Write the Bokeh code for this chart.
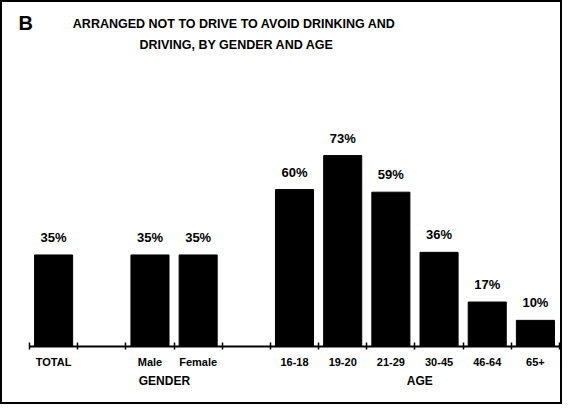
from bokeh.plotting import figure
from bokeh.models import ColumnDataSource, FixedTicker, LinearAxis, Label, Range1d
from bokeh.core.properties import value
from bokeh.embed import file_html
from bokeh.resources import INLINE

# ---- data ----
categories = ["TOTAL", "Male", "Female", "16-18", "19-20", "21-29", "30-45", "46-64", "65+"]
slots = [0.5, 2.5, 3.5, 5.5, 6.5, 7.5, 8.5, 9.5, 10.5]
percent = [35, 35, 35, 60, 73, 59, 36, 17, 10]
groups = ["GENDER", "AGE"]
group_pos = [2.8, 8.1]
title_letter = "B"
title_line1 = "ARRANGED NOT TO DRIVE TO AVOID DRINKING AND"
title_line2 = "DRIVING, BY GENDER AND AGE"

FONT = "Liberation Sans"

src = ColumnDataSource(dict(
    x=slots, top=percent, lab=[f"{v}%" for v in percent]
))

p = figure(width=562, height=404, output_backend="svg", toolbar_location=None,
           x_range=Range1d(-0.478, 11), y_range=Range1d(0, 130),
           y_axis_location=None, x_axis_location=None,
           min_border_left=4, min_border_right=5, min_border_top=4,
           min_border_bottom=60)
p.title = None
p.xgrid.visible = False
p.ygrid.visible = False
p.outline_line_color = None
p.background_fill_color = "white"
p.border_fill_color = "white"
p.styles = {"border": "2px solid black", "box-sizing": "border-box"}

p.vbar(x="x", top="top", width=0.79, source=src, fill_color="black", line_color="black")
p.text(x="x", y="top", text="lab", source=src, text_align="center",
       text_baseline="bottom", y_offset=-10, text_font=value(FONT),
       text_font_style="bold", text_font_size="13px", text_color="black")

# category axis
ax = LinearAxis(ticker=FixedTicker(ticks=slots, minor_ticks=list(range(0, 12))),
                major_label_overrides={s: c for s, c in zip(slots, categories)},
                bounds=(0, 11))
ax.axis_line_color = "black"
ax.axis_line_width = 2
ax.major_tick_line_color = None
ax.major_tick_out = 0
ax.major_tick_in = 0
ax.minor_tick_line_color = "black"
ax.minor_tick_line_width = 1.5
ax.minor_tick_out = 3
ax.minor_tick_in = 4
ax.major_label_standoff = 6
ax.major_label_text_font = FONT
ax.major_label_text_font_style = "bold"
ax.major_label_text_font_size = "11px"
ax.major_label_text_color = "black"
p.add_layout(ax, "below")

# group axis
gax = LinearAxis(ticker=FixedTicker(ticks=group_pos),
                 major_label_overrides={s: g for s, g in zip(group_pos, groups)})
gax.axis_line_color = None
gax.major_tick_line_color = None
gax.minor_tick_line_color = None
gax.major_tick_out = 0
gax.major_tick_in = 0
gax.major_label_standoff = 3
gax.major_label_text_font = FONT
gax.major_label_text_font_style = "bold"
gax.major_label_text_font_size = "12px"
gax.major_label_text_color = "black"
p.add_layout(gax, "below")

# titles (placed inside the enlarged frame)
p.add_layout(Label(x=-0.23, y=123.8, text=title_letter,
                   text_font=FONT, text_font_style="bold", text_font_size="20px",
                   text_align="left", text_baseline="alphabetic", text_color="black"))
p.add_layout(Label(x=4.25, y=123.5, text=title_line1,
                   text_font=FONT, text_font_style="bold", text_font_size="12.5px",
                   text_align="center", text_baseline="alphabetic", text_color="black"))
p.add_layout(Label(x=4.3, y=115.4, text=title_line2,
                   text_font=FONT, text_font_style="bold", text_font_size="12.5px",
                   text_align="center", text_baseline="alphabetic", text_color="black"))

open("out.html", "w").write(file_html(p, INLINE))
